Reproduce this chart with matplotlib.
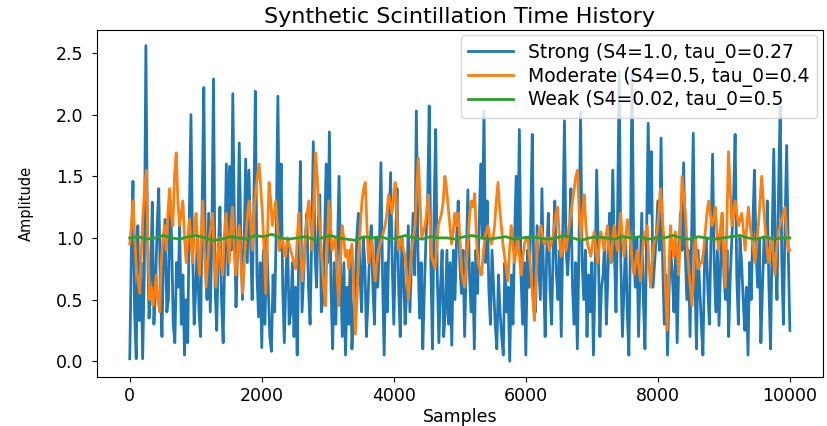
import numpy as np
import matplotlib
matplotlib.use('Agg')
import matplotlib.pyplot as plt

# amplitude values, left to right
strong = [
    0.02, 0.9, 1.46, 0.4, 0.02, 1.1, 0.33, 0.8, 0.02, 0.7, 2.56, 1.0, 0.35, 0.7, 1.29, 0.3,
    0.6, 1.1, 1.4, 0.6, 0.2, 0.9, 1.15, 0.4, 0.5, 1.3, 1.0, 0.3, 0.15, 0.8, 0.6, 1.1, 0.3, 0.7,
    0.05, 0.5, 0.15, 1.2, 2.0, 0.9, 0.3, 0.6, 1.0, 0.4, 0.2, 1.3, 2.22, 0.8, 0.5, 1.2, 0.4,
    1.0, 2.29, 0.6, 0.25, 0.9, 1.25, 0.5, 0.15, 0.9, 1.6,
    0.7, 1.58, 0.9, 2.17, 1.1, 0.44, 0.9, 1.77, 1.0, 0.5, 0.9, 1.64, 0.8, 1.55, 1.0, 0.5, 1.2,
    2.19, 0.7, 0.36, 0.8, 0.11, 0.9, 0.3, 1.0, 0.6, 0.2, 0.08, 0.7, 0.4, 1.1, 2.15, 0.9, 1.6,
    0.6, 0.15, 0.7, 1.0, 0.3, 0.4, 0.8, 0.2, 0.6, 0.05, 0.9, 1.62, 0.4, 0.7, 1.0, 1.2, 0.6, 0.3,
    1.0, 1.78, 0.9, 0.6, 1.1, 1.35, 0.4, 0.5, 1.0, 1.6, 0.8, 1.86, 0.6, 0.1, 0.8, 0.3, 0.9, 1.5,
    0.7, 0.2, 0.8, 0.05, 0.6, 0.3, 0.9, 0.1, 0.4, 0.6, 1.0, 1.2, 0.7, 0.4, 1.0, 0.8, 0.2, 0.5,
    0.9, 1.1, 0.6, 0.3, 1.0, 0.6, 0.9, 1.61, 0.7, 0.05, 0.8, 0.4, 1.0, 1.53, 0.8, 0.3, 0.9, 1.4,
    0.6, 0.2, 1.0, 0.7, 0.3, 0.55, 1.1, 0.4, 0.8, 1.2, 0.7, 2.03, 0.9, 0.35, 0.8, 0.1, 0.6, 1.0,
    1.3, 2.07, 0.8, 0.1, 1.2, 1.88, 0.7, 0.15, 0.6, 0.9, 0.2, 0.4,
    0.9, 0.3, 0.8, 0.13, 0.9, 0.5, 1.0, 1.3, 0.8, 0.55, 0.9, 0.2, 0.8, 1.39, 0.7, 0.4, 0.8, 0.1,
    0.9, 0.55, 1.1, 1.6, 1.0, 2.03, 0.8, 1.3, 0.6, 0.3, 0.9, 0.6, 0.3, 0.1, 0.7, 0.4, 0.2, 0.05,
    0.8, 0.4, 0.6, 0.0, 0.7, 0.3, 1.0, 1.5, 0.9, 1.88, 0.7, 0.3, 0.8, 0.05, 0.9, 0.6, 1.1, 1.84,
    0.6, 0.4, 1.1, 0.8, 0.5, 1.4, 0.7, 0.2, 0.9, 1.2, 0.6, 0.3, 0.9, 1.3, 0.7, 0.5,
    0.9, 0.2, 1.1, 1.95, 0.9, 0.7, 1.0, 1.4, 0.6, 0.3, 0.8, 0.1, 0.9, 2.02, 0.8, 0.5, 0.9, 0.2,
    0.7, 0.4, 0.8, 0.05, 0.7, 1.55, 0.9, 0.2, 0.6, 0.7, 1.0, 0.3, 0.7, 1.2, 0.8, 1.55, 0.9, 0.4,
    1.2, 2.35, 0.8, 0.2, 0.6, 1.0, 0.4, 0.05, 1.0, 2.35, 0.9, 0.6, 1.0, 0.2, 0.7, 1.2, 0.5, 0.1,
    1.0, 1.93, 1.2, 1.7, 0.6, 0.8, 1.0, 1.3, 0.9, 1.81, 0.8, 0.3, 0.7, 0.05, 0.6, 0.9,
    0.7, 0.4, 0.9, 0.15, 0.8, 1.2, 0.9, 1.61, 0.9, 0.5, 0.9, 0.2, 1.0, 1.85, 0.7, 0.1, 0.9, 0.6,
    0.3, 0.05, 0.8, 1.0, 0.6, 0.3, 1.0, 1.68, 0.8, 0.4, 0.9, 0.29, 0.8, 1.2, 0.7, 0.5, 0.9, 0.2,
    0.7, 1.0, 1.3, 1.84, 0.7, 0.3, 1.0, 0.8, 0.5, 0.25, 0.6, 0.05, 0.8, 0.5, 1.1, 1.55, 0.9, 0.6,
    1.0, 0.15, 0.6, 1.0, 0.8, 1.3, 0.6, 0.1, 1.0, 1.72, 0.9, 0.5, 1.4, 2.07, 0.8, 0.3, 1.1, 1.75,
    0.9, 0.25,
]

moderate = [
    0.95, 1.1, 1.3, 1.0, 0.75, 0.65, 0.55, 0.9, 1.2, 1.4, 1.55, 0.9, 0.5, 0.6, 0.45, 0.55, 0.7,
    0.5, 0.4, 0.8, 1.0, 1.1, 0.9, 1.2, 1.4, 1.2, 1.1, 1.5, 1.69, 1.3, 1.1, 1.2, 1.3, 1.0, 0.8,
    1.0, 1.15, 0.95, 0.8, 1.1, 1.2, 0.9, 0.7, 1.0, 1.3, 0.9, 0.6, 0.8, 1.0, 1.1, 1.2, 0.8, 0.6,
    0.85, 1.0, 0.8, 0.7, 1.0, 1.2, 1.0, 0.8, 1.1, 1.25, 0.9, 0.7, 0.9, 1.1,
    0.8, 0.55, 0.8, 1.0, 1.2, 1.3, 1.1, 0.9, 1.2, 1.4, 1.5, 1.6, 1.4, 1.2, 0.9, 0.55, 1.0, 1.45,
    1.3, 1.1, 1.2, 1.3, 1.1, 0.9, 0.95, 1.0, 0.9, 0.85, 1.0, 0.95, 0.9, 0.85, 0.8, 0.75, 1.0,
    1.2, 0.9, 0.65, 0.8, 1.0, 1.2, 1.3, 1.1, 0.9, 1.3, 1.69, 1.5, 1.2, 1.0, 0.8, 0.6, 0.45, 0.9,
    1.3, 1.1, 0.9, 0.95, 1.0, 0.7, 0.45, 0.8, 1.1, 1.0, 0.85,
    0.9, 0.75, 0.85, 0.95, 0.6, 0.22, 0.5, 0.85, 1.1, 1.3, 1.4, 1.45, 1.1, 0.8, 0.9, 1.0, 0.8,
    0.65, 0.8, 0.9, 0.95, 1.0, 1.05, 1.1, 1.2, 1.35, 1.3, 1.2, 1.3, 1.45, 1.2, 0.9, 0.95, 1.0,
    0.9, 0.85, 0.7, 0.5, 0.7, 0.9, 1.0, 1.1, 1.4, 1.65, 1.3, 1.0, 1.05, 1.1, 1.2, 1.35, 1.1,
    0.85, 0.8, 0.75, 0.9, 1.1, 1.15, 1.2, 1.3, 1.5, 1.4, 1.25, 1.1, 0.95, 1.05, 1.2,
    1.1, 1.2, 1.0, 0.75, 0.65, 0.6, 0.8, 1.0, 1.2, 1.3, 1.25, 1.36, 1.0, 0.8, 0.75, 0.7, 0.85,
    1.0, 1.05, 1.1, 1.0, 0.95, 1.0, 1.1, 1.3, 1.45, 1.25, 1.1, 0.95, 0.85, 0.75, 0.65, 0.9, 1.1,
    0.95, 0.8, 0.9, 1.0, 0.85, 0.7, 0.85, 0.95, 1.0, 1.0, 0.85, 0.7, 0.5, 0.33, 0.7, 1.0, 1.05,
    1.1, 1.0, 0.95, 1.0, 1.0, 0.9, 0.95, 1.0, 1.1, 1.2, 1.25, 1.0, 0.85, 0.9, 1.0,
    0.9, 1.0, 1.1, 1.2, 1.3, 1.4, 1.5, 1.55, 1.2, 1.0, 1.2, 1.35, 1.1, 0.95, 0.9, 0.85, 0.95,
    1.05, 0.9, 0.8, 0.95, 1.05, 1.0, 0.9, 1.0, 1.1, 0.95, 0.8, 0.95, 1.1, 1.0, 0.9, 1.05, 1.2,
    1.0, 0.85, 1.0, 1.15, 1.05, 0.95, 0.8, 0.7, 0.8, 0.9, 0.75, 0.65, 0.85, 1.0, 1.05, 1.1, 0.8,
    0.6, 0.8, 0.95, 1.0, 1.05, 1.2, 1.4, 1.2, 1.0, 0.6, 0.25, 0.7, 1.1, 0.95, 0.85,
    1.05, 0.9, 0.7, 1.1, 1.5, 1.35, 1.2, 0.95, 0.75, 0.6, 0.45, 0.7, 1.0, 0.85, 0.75, 0.8, 0.8,
    0.9, 1.05, 1.2, 1.3, 1.2, 1.1, 1.15, 1.25, 1.05, 0.9, 1.05, 1.2, 0.9, 0.6, 1.1, 1.7, 1.4,
    1.1, 1.2, 1.3, 1.2, 1.1, 1.15, 1.2, 1.05, 0.9, 1.1, 1.25, 1.1, 1.0, 0.9, 0.8, 0.95, 1.1, 1.3,
    1.5, 1.3, 1.1, 0.95, 0.8, 0.9, 1.0, 0.85, 0.7, 0.9, 1.05, 1.1, 1.15, 1.2, 1.25, 1.05, 0.9,
    0.9,
]

weak = [
    1.0, 1.01, 0.99, 1.0, 1.02, 1.0, 0.99, 1.01, 1.02, 1.0, 0.98, 0.99, 1.01, 1.0, 0.99, 1.02,
    1.01, 1.03, 1.0, 0.99, 1.0, 1.01, 0.99, 1.0, 1.02, 1.0, 0.99, 0.98, 1.01, 1.0, 1.01, 0.99,
    1.0, 1.02, 1.0, 0.99, 1.01, 1.0, 1.0, 0.99, 1.01, 1.02, 1.0, 0.99, 1.0, 1.01, 0.99, 1.0,
    1.01, 1.0, 0.99, 1.0, 1.02, 1.0, 0.98, 1.0, 1.01, 1.0, 0.99, 1.01, 1.0, 1.01, 0.99, 1.0,
    1.0, 1.02, 1.0, 0.99, 1.01, 1.0, 0.99, 1.0, 1.01, 1.02, 1.0, 0.99, 1.01, 0.99, 1.0, 1.0,
]

labels = ['Strong (S4=1.0, tau_0=0.27', 'Moderate (S4=0.5, tau_0=0.4', 'Weak (S4=0.02, tau_0=0.5']
n_samples = 10000

fig = plt.figure(figsize=(8.27, 4.26), dpi=100)
ax = fig.add_axes([0.117, 0.115, 0.878, 0.815])

for series, lab in zip([strong, moderate, weak], labels):
    x = np.linspace(0, n_samples, len(series))
    ax.plot(x, series, linewidth=2.0, label=lab)

ax.set_yticks([0.0, 0.5, 1.0, 1.5, 2.0, 2.5])
ax.tick_params(labelsize=12.5)
ax.tick_params(axis='y', pad=6)
ax.set_xlabel('Samples', fontsize=12.5, labelpad=2)
ax.set_ylabel('Amplitude', fontsize=10.5, labelpad=16)
ax.set_title('Synthetic Scintillation Time History', fontsize=16, pad=5)
ax.legend(loc='upper right', fontsize=13.5, borderaxespad=0.3, handlelength=2.4,
          labelspacing=0.2)

fig.savefig('out.png', dpi=100)
